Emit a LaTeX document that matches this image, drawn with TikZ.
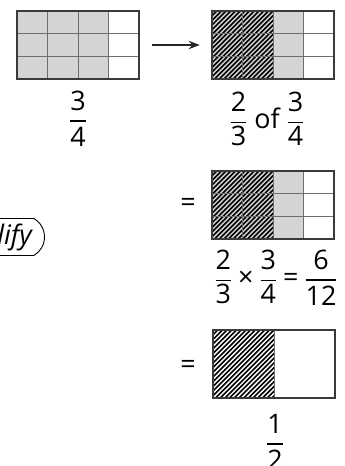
\documentclass[tikz,border=0pt]{standalone}
\usepackage{amsmath}
\usepackage{fontspec}
\setmainfont{Open Sans}
\usetikzlibrary{arrows.meta,shapes.misc}
\definecolor{cellgrey}{HTML}{D4D4D4}
\definecolor{edge}{HTML}{3A3A3A}
\definecolor{thin}{HTML}{6E6E6E}
\newcommand{\fr}[3]{\genfrac{}{}{#1}{0}{\text{#2}}{\text{#3}}}

\begin{document}
\begin{tikzpicture}[x=1bp,y=-1bp,>=Stealth,
  num/.style={font=\fontsize{27}{32}\selectfont,inner sep=0pt},
  frame/.style={draw=edge,line width=1.3bp},
  cellline/.style={draw=thin,line width=0.8bp},
  hatch/.style={draw=black,line width=1.6bp},
  arr/.style={->,line width=1.8bp,black!85,shorten <=13bp,shorten >=12bp}]
\useasboundingbox (0,0) rectangle (344,466);
\clip (0,0) rectangle (344,466);

%% 3x4 grids
\foreach \n/\gx/\gy/\hat in {1/17/11/0,2/212/11/1,3/212/171/1} {
  \fill[cellgrey] (\gx,\gy) rectangle ++(91.5,68);
  \ifnum\hat>0
  \begin{scope}
    \clip (\gx,\gy) rectangle ++(61,68);
    \foreach \k in {0,4.7,...,130} { \draw[hatch] (\gx+\k-68,\gy+68) -- ++(68,-68); }
  \end{scope}
  \fi
  \foreach \c in {1,2,3} { \draw[cellline] (\gx+30.5*\c,\gy) -- ++(0,68); }
  \foreach \r in {1,2} { \draw[cellline] (\gx,\gy+22.67*\r) -- ++(122,0); }
  \draw[frame] (\gx,\gy) rectangle ++(122,68);
  \node[inner sep=0pt,minimum width=122bp,minimum height=68bp] (g\n) at (\gx+61,\gy+34) {};
}

%% halves
\begin{scope}
  \clip (213,330) rectangle ++(61,68);
  \foreach \k in {0,4.7,...,130} { \draw[hatch] (213+\k-68,398) -- ++(68,-68); }
\end{scope}
\draw[cellline] (274,330) -- ++(0,68);
\draw[frame] (213,330) rectangle ++(122,68);
\node[inner sep=0pt,minimum width=122bp,minimum height=68bp] (g4) at (274,364) {};

%% fractions
\node[num] (f1) at (78,119) {$\fr{1.8pt}{3}{4}$};
\node[num] (f2) at (267,119) {$\fr{0.6pt}{2}{3}$ of $\fr{0.6pt}{3}{4}$};
\node[num] (f3) at (276,278) {$\fr{0.6pt}{2}{3}$\:×\:$\fr{0.6pt}{3}{4}$\:=\:$\fr{1.8pt}{6}{12}$};
\node[num] (f4) at (275,442) {$\fr{1.8pt}{1}{2}$};
\node[num] (eq3) at (188,205) {=};
\node[num] (eq4) at (188,367) {=};

%% callout
\node[rounded rectangle,rounded rectangle arc length=120,draw=black,line width=0.9bp,
  inner xsep=8pt,inner ysep=0pt,minimum height=37bp,anchor=east,
  font=\fontsize{27}{32}\selectfont\itshape] (simp) at (45,237) {Simplify};

%% arrow
\draw[arr] (g1) -- (g2);
\end{tikzpicture}
\end{document}
